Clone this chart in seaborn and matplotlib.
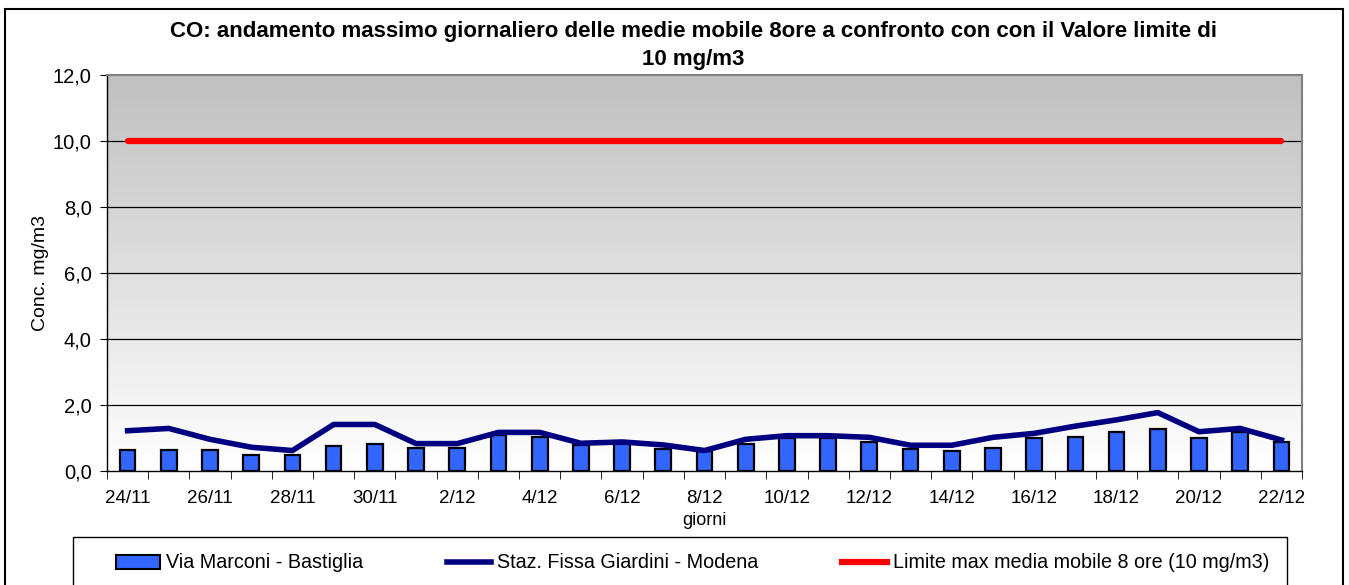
import numpy as np
import pandas as pd
import seaborn as sns
import matplotlib.pyplot as plt
from matplotlib.patches import Rectangle
from matplotlib.lines import Line2D
from matplotlib.patches import Patch

# dati
giorni = ['24/11', '25/11', '26/11', '27/11', '28/11', '29/11', '30/11',
          '1/12', '2/12', '3/12', '4/12', '5/12', '6/12', '7/12', '8/12',
          '9/12', '10/12', '11/12', '12/12', '13/12', '14/12', '15/12',
          '16/12', '17/12', '18/12', '19/12', '20/12', '21/12', '22/12']
bastiglia = [0.65, 0.65, 0.65, 0.5, 0.5, 0.77, 0.83, 0.71, 0.71, 1.1, 1.04,
             0.8, 0.82, 0.66, 0.6, 0.82, 1.0, 1.0, 0.87, 0.66, 0.6, 0.71,
             0.99, 1.04, 1.17, 1.27, 0.99, 1.17, 0.87]
giardini = [1.22, 1.29, 0.96, 0.72, 0.62, 1.41, 1.41, 0.83, 0.83, 1.17, 1.17,
            0.84, 0.88, 0.79, 0.62, 0.96, 1.07, 1.07, 1.02, 0.78, 0.78, 1.02,
            1.14, 1.36, 1.55, 1.77, 1.19, 1.29, 0.94]
limite = [10.0] * len(giorni)

df = pd.DataFrame({'giorno': giorni, 'bastiglia': bastiglia,
                   'giardini': giardini, 'limite': limite})
df['pos'] = np.arange(len(df))

plt.rcParams['font.family'] = ['Liberation Sans', 'DejaVu Sans']

fig = plt.figure(figsize=(13.49, 5.85), dpi=100)
ax = fig.add_axes([107 / 1349, 1 - 471 / 585, (1302 - 107) / 1349, (471 - 75) / 585])

# sfondo sfumato grigio -> bianco
grad = np.linspace(0, 1, 256).reshape(-1, 1)
ax.imshow(grad, cmap=sns.blend_palette(['#C0C0C0', '#FFFFFF'], as_cmap=True),
          extent=[-0.5, len(df) - 0.5, 0, 12], aspect='auto', zorder=0, origin='upper')

for v in [2, 4, 6, 8, 10]:
    ax.axhline(v, color='black', lw=0.9, zorder=1)

sns.barplot(data=df, x='pos', y='bastiglia', color='#3366FF', width=0.38,
            edgecolor='black', linewidth=1.6, saturation=1, ax=ax, zorder=2,
            native_scale=True)
sns.lineplot(data=df, x='pos', y='giardini', color='#000080', lw=4, ax=ax, zorder=3)
sns.lineplot(data=df, x='pos', y='limite', color='#FF0000', lw=4.5, ax=ax, zorder=3,
             solid_capstyle='round')

ax.set_xlim(-0.5, len(df) - 0.5)
ax.set_ylim(0, 12)
ax.set_yticks(np.arange(0, 13, 2))
ax.set_yticklabels([f'{v:.1f}'.replace('.', ',') for v in np.arange(0, 13, 2)], fontsize=14.5)
ax.set_xticks(df['pos'][::2])
ax.set_xticklabels(df['giorno'][::2], fontsize=13.5)
ax.set_xticks(np.arange(-0.5, len(df), 1), minor=True)
ax.tick_params(axis='x', which='major', length=0, pad=14)
ax.tick_params(axis='x', which='minor', length=6, color='black')
ax.tick_params(axis='y', length=5, color='black', pad=6)

ax.set_xlabel('giorni', fontsize=13, labelpad=3)
ax.set_ylabel('Conc. mg/m3', fontsize=14, labelpad=3)

for s in ['top', 'right']:
    ax.spines[s].set_color('#808080')
    ax.spines[s].set_linewidth(1.5)
for s in ['left', 'bottom']:
    ax.spines[s].set_color('black')
    ax.spines[s].set_linewidth(1)

fig.text(693 / 1349, 1 - 31 / 585,
         'CO: andamento massimo giornaliero delle medie mobile 8ore a confronto con con il Valore limite di',
         ha='center', va='center', fontsize=16, fontweight='bold')
fig.text(693 / 1349, 1 - 59 / 585, '10 mg/m3', ha='center', va='center',
         fontsize=16, fontweight='bold')

# cornice esterna e riquadro legenda
fig.patches.append(Rectangle((5 / 1349, -0.1), (1343 - 5) / 1349, 1 - 9 / 585 + 0.1,
                             transform=fig.transFigure, fill=False, ec='black', lw=1.5))
fig.patches.append(Rectangle((73 / 1349, -0.1), (1287 - 73) / 1349, 1 - 537 / 585 + 0.1,
                             transform=fig.transFigure, fill=False, ec='black', lw=1))

handles = [Patch(facecolor='#3366FF', edgecolor='black', linewidth=1.5),
           Line2D([], [], color='#000080', lw=4),
           Line2D([], [], color='#FF0000', lw=4.5)]
labels = ['Via Marconi - Bastiglia', 'Staz. Fissa Giardini - Modena',
          'Limite max media mobile 8 ore (10 mg/m3)']
fig.legend(handles, labels, loc='center left', bbox_to_anchor=(98 / 1349, 1 - 563 / 585),
           ncol=3, frameon=False, fontsize=14.2, handlelength=2.25, handletextpad=0.3,
           columnspacing=4.25)

fig.savefig('out.png', dpi=100)
